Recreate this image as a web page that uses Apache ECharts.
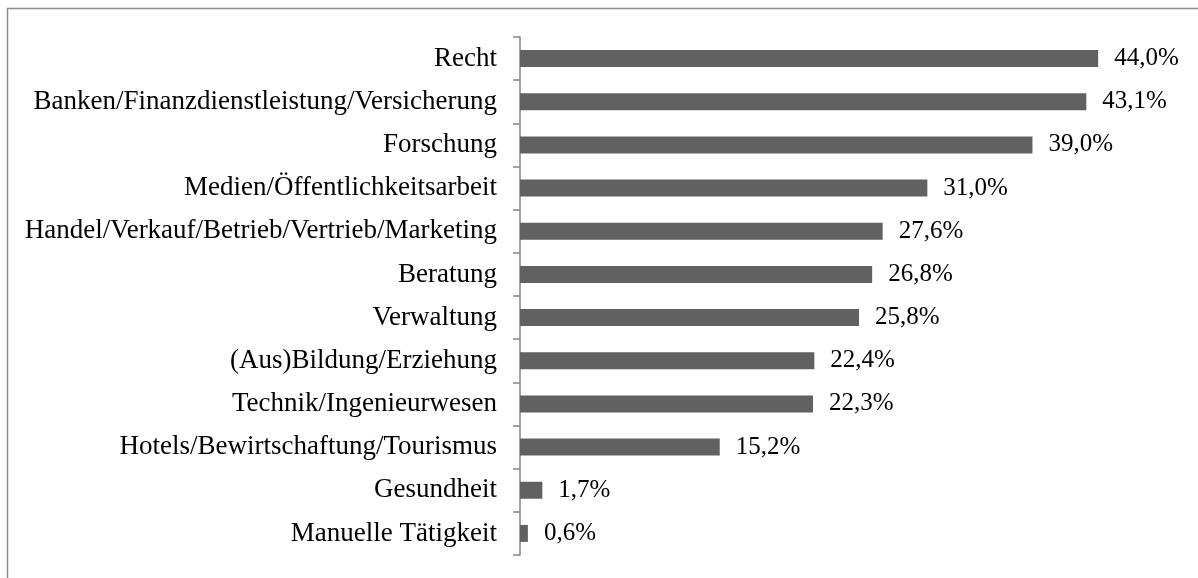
<!DOCTYPE html>
<html>
<head>
<meta charset="utf-8">
<script src="https://cdn.jsdelivr.net/npm/echarts@6/dist/echarts.min.js"></script>
<style>
html,body{margin:0;padding:0;background:#fff;}
#main{width:1198px;height:578px;}
</style>
</head>
<body>
<div id="main"></div>
<script>
var categories = ['Recht','Banken/Finanzdienstleistung/Versicherung','Forschung','Medien/Öffentlichkeitsarbeit',
	'Handel/Verkauf/Betrieb/Vertrieb/Marketing','Beratung','Verwaltung','(Aus)Bildung/Erziehung',
	'Technik/Ingenieurwesen','Hotels/Bewirtschaftung/Tourismus','Gesundheit','Manuelle Tätigkeit'];
var values = [44.0, 43.1, 39.0, 31.0, 27.6, 26.8, 25.8, 22.4, 22.3, 15.2, 1.7, 0.6];

var myChart = echarts.init(document.getElementById('main'));
var font = '"Liberation Serif","Times New Roman",serif';

var option = {
	animation: false,
	graphic: [{
		type: 'rect',
		shape: {x: 7.5, y: 8.5, width: 1300, height: 1000},
		style: {fill: 'none', stroke: '#8c8c8c', lineWidth: 1.5},
		silent: true
	}],
	grid: {left: 520, right: 21, top: 37, bottom: 23},
	xAxis: {
		type: 'value', min: 0, max: 50, show: false,
		splitLine: {show: false}
	},
	yAxis: {
		type: 'category',
		data: categories,
		inverse: true,
		axisLine: {show: true, lineStyle: {color: '#868686', width: 1.5}},
		axisTick: {show: true, length: 7, lineStyle: {color: '#868686', width: 1.5}},
		axisLabel: {color: '#000', fontFamily: font, fontSize: 27, margin: 23}
	},
	series: [{
		type: 'bar',
		data: values,
		barWidth: 17,
		itemStyle: {color: '#616161'},
		label: {
			show: true, position: 'right', distance: 16,
			color: '#000', fontFamily: font, fontSize: 25,
			formatter: function(p){ return p.value.toFixed(1).replace('.', ',') + '%'; }
		}
	}]
};
myChart.setOption(option);
</script>
</body>
</html>
